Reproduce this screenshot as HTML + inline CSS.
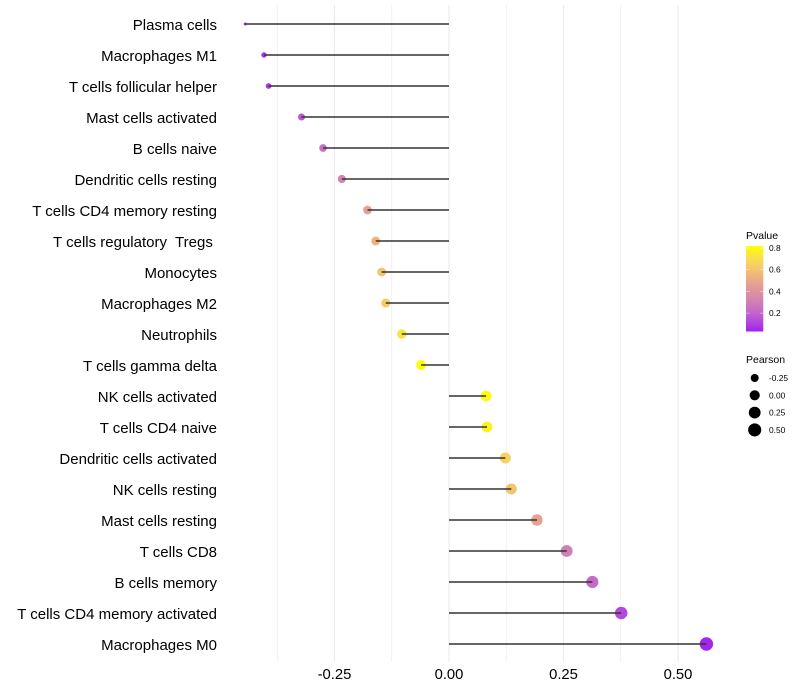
<!DOCTYPE html>
<html lang="en">
<head>
<meta charset="utf-8">
<title>Pearson correlation lollipop chart</title>
<style>
  html, body { margin: 0; padding: 0; background: #fff; }
  svg { display: block; font-family: "Liberation Sans", sans-serif; }
</style>
</head>
<body>
<svg id="chart" width="800" height="700" viewBox="0 0 800 700" xmlns="http://www.w3.org/2000/svg">
  <defs>
    <linearGradient id="pvalue-gradient" x1="0" y1="1" x2="0" y2="0"></linearGradient>
  </defs>
  <rect width="800" height="700" fill="#ffffff"></rect>
  <g id="grid"></g>
  <g id="marks"></g>
  <g id="y-labels"></g>
  <g id="x-labels"></g>
  <g id="pvalue-legend">
    <text x="746" y="239" font-size="10.5" fill="#000">Pvalue</text>
    <rect id="pvalue-bar" x="746" y="246" width="17.3" height="85.5" fill="url(#pvalue-gradient)"></rect>
  </g>
  <g id="pearson-legend">
    <text x="746" y="363" font-size="10.5" fill="#000">Pearson</text>
  </g>
</svg>
<script>
const categories = ["Plasma cells", "Macrophages M1", "T cells follicular helper", "Mast cells activated", "B cells naive", "Dendritic cells resting", "T cells CD4 memory resting", "T cells regulatory  Tregs ", "Monocytes", "Macrophages M2", "Neutrophils", "T cells gamma delta", "NK cells activated", "T cells CD4 naive", "Dendritic cells activated", "NK cells resting", "Mast cells resting", "T cells CD8", "B cells memory", "T cells CD4 memory activated", "Macrophages M0"];
const pearsonValues = [-0.445, -0.404, -0.394, -0.322, -0.275, -0.234, -0.178, -0.16, -0.147, -0.138, -0.103, -0.061, 0.081, 0.083, 0.123, 0.136, 0.192, 0.257, 0.313, 0.376, 0.562];
const pValues = [0.05, 0.07, 0.08, 0.16, 0.24, 0.33, 0.47, 0.55, 0.6, 0.63, 0.72, 0.82, 0.8, 0.78, 0.66, 0.6, 0.47, 0.3, 0.22, 0.12, 0.04];
const xTickValues = [-0.25, 0, 0.25, 0.5];
const xTickLabels = ["-0.25", "0.00", "0.25", "0.50"];
const xMinorValues = [-0.375, -0.125, 0.125, 0.375];
const pLegendValues = [0.2, 0.4, 0.6, 0.8];
const pLegendLabels = ["0.2", "0.4", "0.6", "0.8"];
const sizeLegendValues = [-0.25, 0, 0.25, 0.5];
const sizeLegendLabels = ["-0.25", "0.00", "0.25", "0.50"];
const rampP = [0.03, 0.1, 0.2, 0.3, 0.4, 0.5, 0.6, 0.7, 0.82];
const rampColors = ["#a020f0", "#b040e0", "#c265cc", "#d07fb6", "#dd93a0", "#e9a88a", "#f3c46e", "#f9dc52", "#ffff00"];

const SVG_NS = "http://www.w3.org/2000/svg";
const xScale = v => 449 + v * 458;
const yScale = i => 24 + i * 31;
const pLegendY = p => 248 + (0.8 - p) * 108.5;
const minPearson = Math.min(...pearsonValues);
const maxPearson = Math.max(...pearsonValues);
const radius = v => 1.5 + 5.2 * Math.pow(Math.max(0, (v - minPearson) / (maxPearson - minPearson)), 0.45);

function hexToRgb(h) {
  return [1, 3, 5].map(k => parseInt(h.substr(k, 2), 16));
}
function pColor(p) {
  if (p <= rampP[0]) return rampColors[0];
  for (let k = 1; k < rampP.length; k++) {
    if (p <= rampP[k]) {
      const t = (p - rampP[k - 1]) / (rampP[k] - rampP[k - 1]);
      const a = hexToRgb(rampColors[k - 1]);
      const b = hexToRgb(rampColors[k]);
      return "rgb(" + a.map((c, n) => Math.round(c + (b[n] - c) * t)).join(",") + ")";
    }
  }
  return rampColors[rampColors.length - 1];
}
function make(tag, attrs, parent, text) {
  const el = document.createElementNS(SVG_NS, tag);
  for (const key in attrs) el.setAttribute(key, attrs[key]);
  if (text !== undefined) {
    el.textContent = text;
    el.setAttribute("xml:space", "preserve");
    el.style.whiteSpace = "pre";
  }
  parent.appendChild(el);
  return el;
}

const gridGroup = document.getElementById("grid");
xMinorValues.forEach(v => {
  const el = make("line", { x1: xScale(v), x2: xScale(v), y1: 5, y2: 662, stroke: "#ebebeb", "stroke-width": 0.7 }, gridGroup);
  
  
});
xTickValues.forEach(v => {
  const el = make("line", { x1: xScale(v), x2: xScale(v), y1: 5, y2: 662, stroke: "#ebebeb", "stroke-width": 1.1 }, gridGroup);
  
  
});

const marksGroup = document.getElementById("marks");
categories.forEach((name, i) => {
  const point = make("circle", { cx: xScale(pearsonValues[i]), cy: yScale(i), r: radius(pearsonValues[i]), fill: pColor(pValues[i]) }, marksGroup);
  
  
  const stem = make("line", { x1: xScale(0), x2: xScale(pearsonValues[i]), y1: yScale(i), y2: yScale(i), stroke: "#333333", "stroke-width": 1.4 }, marksGroup);
  
  
});

const yLabelGroup = document.getElementById("y-labels");
categories.forEach((name, i) => {
  const el = make("text", { x: 217, y: yScale(i) + 6, "text-anchor": "end", "font-size": 15, fill: "#000" }, yLabelGroup, name);
  
  
});

const xLabelGroup = document.getElementById("x-labels");
xTickValues.forEach((v, i) => {
  const el = make("text", { x: xScale(v), y: 679, "text-anchor": "middle", "font-size": 14.8, fill: "#000" }, xLabelGroup, xTickLabels[i]);
  
  
});

const gradient = document.getElementById("pvalue-gradient");
const barBottomP = 0.8 - (331.5 - 248) / 108.5;
const barTopP = 0.8 + 2 / 108.5;
rampP.forEach((p, k) => {
  const stop = make("stop", { offset: Math.min(1, Math.max(0, (p - barBottomP) / (barTopP - barBottomP))), "stop-color": rampColors[k] }, gradient);
  
  
});

const pLegend = document.getElementById("pvalue-legend");
pLegendValues.forEach((p, i) => {
  const y = pLegendY(p);
  const left = make("line", { x1: 746, x2: 749.5, y1: y, y2: y, stroke: "#fff", "stroke-width": 0.5, opacity: 0.8 }, pLegend);
  
  
  const right = make("line", { x1: 759.8, x2: 763.3, y1: y, y2: y, stroke: "#fff", "stroke-width": 0.5, opacity: 0.8 }, pLegend);
  
  
  const label = make("text", { x: 769, y: y + 3, "font-size": 8.4, fill: "#000" }, pLegend, pLegendLabels[i]);
  
  
});

const sizeLegend = document.getElementById("pearson-legend");
sizeLegendValues.forEach((v, i) => {
  const y = 378 + i * 17.3;
  const key = make("circle", { cx: 754.7, cy: y, r: radius(v), fill: "#000" }, sizeLegend);
  
  
  const label = make("text", { x: 769, y: y + 3, "font-size": 8.4, fill: "#000" }, sizeLegend, sizeLegendLabels[i]);
  
  
});
</script>
</body>
</html>
